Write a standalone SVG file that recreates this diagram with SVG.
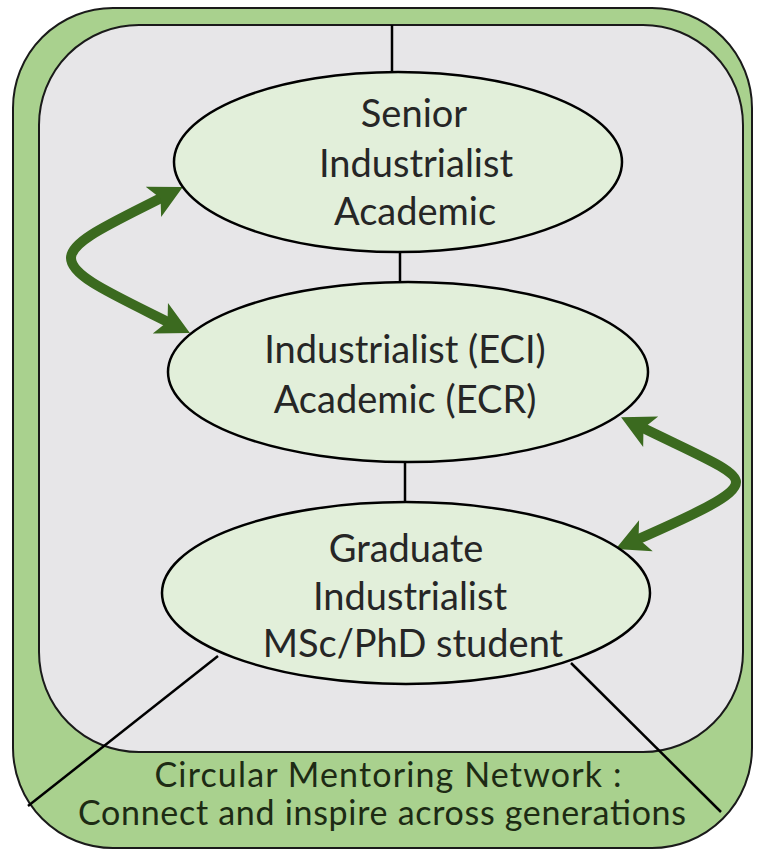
<svg xmlns="http://www.w3.org/2000/svg" width="759" height="854" viewBox="0 0 759 854">
<style>
.node ellipse{fill:#e2efda;stroke:#000;stroke-width:2.5}
.lbl{font-family:Lato,"Open Sans","Liberation Sans",sans-serif;font-size:38px;fill:#262626;text-anchor:middle}
.foot{font-family:Lato,"Open Sans","Liberation Sans",sans-serif;font-size:34px;fill:#1d2b14;text-anchor:middle}
.ln{stroke:#000;stroke-width:2.5;fill:none}
.arr{stroke:#3b6a1f;stroke-width:10;fill:none;marker-start:url(#ah);marker-end:url(#ah)}
</style>
<defs>
<marker id="ah" viewBox="-16 -19 38 38" refX="0" refY="0" markerWidth="38" markerHeight="38" markerUnits="userSpaceOnUse" orient="auto-start-reverse">
<path d="M20,0 L-13,-17 L-5,0 L-13,17 Z" fill="#3b6a1f"/>
</marker>
</defs>
<g id="frame">
<rect x="13" y="8" width="739" height="840" rx="100" ry="100" fill="#a9d18e" stroke="#1a1a1a" stroke-width="2"/>
<rect x="39" y="25" width="704" height="727" rx="100" ry="100" fill="#e7e6e8" stroke="#1a1a1a" stroke-width="2"/>
</g>
<g id="connectors">
<line class="ln" x1="392" y1="25" x2="392" y2="73"/>
<line class="ln" x1="400" y1="251" x2="400" y2="283"/>
<line class="ln" x1="405" y1="461" x2="405" y2="503"/>
<line class="ln" x1="218" y1="656" x2="28" y2="806"/>
<line class="ln" x1="571" y1="663" x2="721" y2="812"/>
<path class="arr" d="M165,196 C110,224 71,241 71,258 C71,276 110,293 172,324"/>
<path class="arr" d="M639,426 C700,456 736,470 736,482 C736,495 700,512 634,541"/>
</g>
<g id="senior" class="node">
<ellipse cx="398" cy="162" rx="224" ry="90"/>
<text class="lbl" x="414" y="127">Senior</text>
<text class="lbl" x="416" y="177">Industrialist</text>
<text class="lbl" x="415" y="225">Academic</text>
</g>
<g id="early" class="node">
<ellipse cx="408" cy="372" rx="240" ry="90"/>
<text class="lbl" x="405" y="363">Industrialist (ECI)</text>
<text class="lbl" x="405" y="413">Academic (ECR)</text>
</g>
<g id="graduate" class="node">
<ellipse cx="406" cy="593" rx="244" ry="91"/>
<text class="lbl" x="406" y="562">Graduate</text>
<text class="lbl" x="410" y="610">Industrialist</text>
<text class="lbl" x="413" y="657">MSc/PhD student</text>
</g>
<g id="caption">
<text class="foot" x="388" y="787" textLength="467" lengthAdjust="spacing">Circular Mentoring Network :</text>
<text class="foot" x="382" y="825" textLength="608" lengthAdjust="spacing">Connect and inspire across generations</text>
</g>
</svg>
